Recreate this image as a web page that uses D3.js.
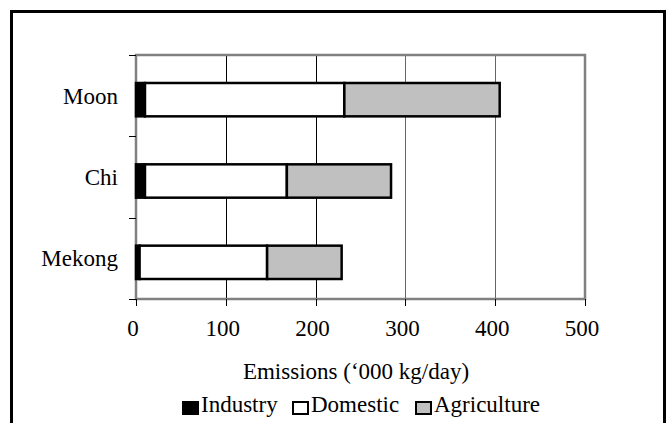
<!DOCTYPE html>
<html>
<head>
<meta charset="utf-8">
<script src="https://cdn.jsdelivr.net/npm/d3@7/dist/d3.min.js"></script>
<style>
  body { margin: 0; font-family: "Liberation Serif", Tinos, "Times New Roman", "Noto Serif", serif; }
  #s, #s text { font-family: "Liberation Serif", Tinos, "Times New Roman", "Noto Serif", serif !important; }
</style>
</head>
<body>
<svg id="s" width="669" height="423" style="font-family: 'Liberation Serif', Tinos, serif"></svg>
<script>
// Catchment emission loads, stacked by source
const categories = ["Moon", "Chi", "Mekong"];
const seriesNames = ["Industry", "Domestic", "Agriculture"];
const industry = [10, 10, 4];
const domestic = [222, 158, 142];
const agriculture = [173, 116, 83];
const xTicks = [0, 100, 200, 300, 400, 500];
const seriesColors = ["#000000", "#ffffff", "#c0c0c0"];
const xTitle = "Emissions (\u2018000 kg/day)";

const FONT_SIZE = 23;

const svg = d3.select("#s");

// outer frame
svg.append("rect")
  .attr("x", 11.5).attr("y", 11.5)
  .attr("width", 653).attr("height", 430)
  .attr("fill", "#fff").attr("stroke", "#000").attr("stroke-width", 3);

const plot = { left: 136, right: 585, top: 55, bottom: 299 };

const x = d3.scaleLinear().domain([0, 500]).range([plot.left, plot.right]);
const y = d3.scaleBand().domain(categories).range([plot.top, plot.bottom]).padding(0);

// vertical gridlines
svg.append("g").selectAll("line")
  .data(xTicks.filter(t => t > 0 && t < 500))
  .join("line")
  .attr("x1", d => Math.round(x(d)) + 0.5).attr("x2", d => Math.round(x(d)) + 0.5)
  .attr("y1", plot.top).attr("y2", plot.bottom)
  .attr("stroke", (d, i) => i < 2 ? "#000" : "#666")
  .attr("stroke-width", 1);

// plot area border
svg.append("rect")
  .attr("x", plot.left).attr("y", plot.top)
  .attr("width", plot.right - plot.left).attr("height", plot.bottom - plot.top)
  .attr("fill", "none").attr("stroke", "#808080").attr("stroke-width", 2.5);

// stacked bars
const rows = categories.map((c, i) => ({
  category: c, Industry: industry[i], Domestic: domestic[i], Agriculture: agriculture[i]
}));
const stacked = d3.stack().keys(seriesNames)(rows);
const barH = y.bandwidth() * 0.41;
const barOffset = 4;

svg.append("g").selectAll("g")
  .data(stacked)
  .join("g")
  .attr("fill", (d, i) => seriesColors[i])
  .selectAll("rect")
  .data(d => d)
  .join("rect")
  .attr("x", d => x(d[0]))
  .attr("width", d => x(d[1]) - x(d[0]))
  .attr("y", d => y(d.data.category) + (y.bandwidth() - barH) / 2 + barOffset)
  .attr("height", barH)
  .attr("stroke", "#000")
  .attr("stroke-width", 2.5);

// category axis
const yAxis = svg.append("g");
yAxis.selectAll("line")
  .data(categories.map(c => y(c)).concat([plot.bottom]))
  .join("line")
  .attr("x1", plot.left - 7).attr("x2", plot.left)
  .attr("y1", d => Math.round(d) + 0.5).attr("y2", d => Math.round(d) + 0.5)
  .attr("stroke", "#000").attr("stroke-width", 1);
yAxis.selectAll("text")
  .data(categories)
  .join("text")
  .attr("x", 118)
  .attr("y", d => y(d) + y.bandwidth() / 2 + 8)
  .attr("text-anchor", "end")
  .attr("font-size", FONT_SIZE)
  .text(d => d);

// value axis
const xAxis = svg.append("g");
xAxis.selectAll("line")
  .data(xTicks)
  .join("line")
  .attr("x1", d => Math.round(x(d)) + 0.5).attr("x2", d => Math.round(x(d)) + 0.5)
  .attr("y1", plot.bottom).attr("y2", plot.bottom + 7)
  .attr("stroke", "#000").attr("stroke-width", 1);
xAxis.selectAll("text")
  .data(xTicks)
  .join("text")
  .attr("x", d => x(d) - 3)
  .attr("y", 336)
  .attr("text-anchor", "middle")
  .attr("font-size", FONT_SIZE)
  .text(d => d);

svg.append("text")
  .attr("x", 356).attr("y", 379)
  .attr("text-anchor", "middle")
  .attr("font-size", FONT_SIZE)
  .text(xTitle);

// legend
const legendX = [182, 292, 415];
const legend = svg.append("g").selectAll("g")
  .data(seriesNames)
  .join("g")
  .attr("transform", (d, i) => `translate(${legendX[i]},0)`);
legend.append("rect")
  .attr("x", 1).attr("y", 402)
  .attr("width", 15).attr("height", 12)
  .attr("fill", (d, i) => seriesColors[i])
  .attr("stroke", "#000").attr("stroke-width", 2);
legend.append("text")
  .attr("x", 19).attr("y", 412)
  .attr("font-size", FONT_SIZE)
  .text(d => d);
</script>
</body>
</html>
